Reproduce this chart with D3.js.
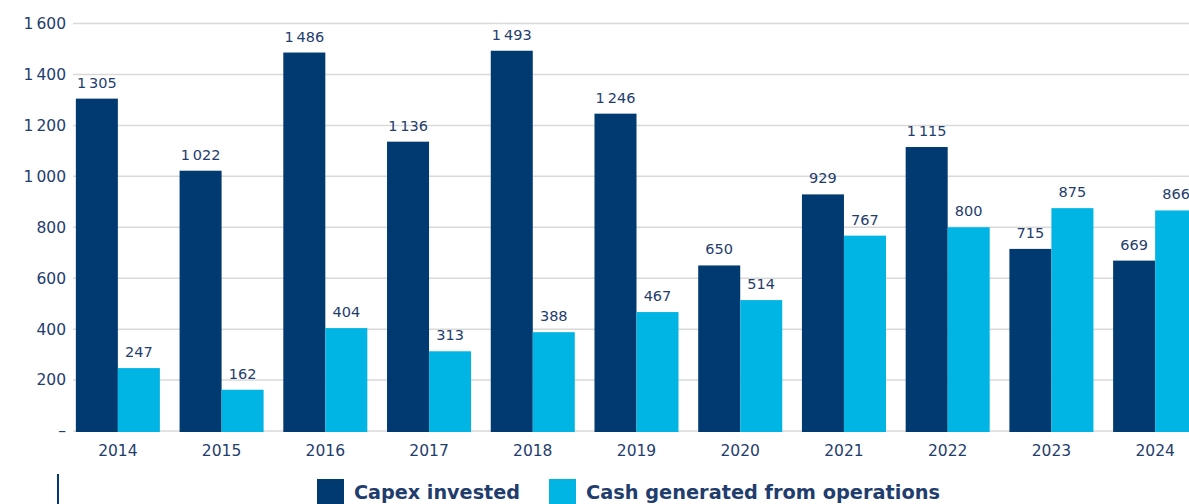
<!DOCTYPE html>
<html>
<head>
<meta charset="utf-8">
<script src="https://cdn.jsdelivr.net/npm/d3@7"></script>
<style>
  body { margin: 0; background: #fff; }
  svg { display: block; font-family: "DejaVu Sans", "Noto Sans", sans-serif; }
</style>
</head>
<body>
<svg id="chart" width="1189" height="504"></svg>
<script>
const years = ["2014", "2015", "2016", "2017", "2018", "2019", "2020", "2021", "2022", "2023", "2024"];
const capex = [1305, 1022, 1486, 1136, 1493, 1246, 650, 929, 1115, 715, 669];
const cash = [247, 162, 404, 313, 388, 467, 514, 767, 800, 875, 866];
const yTicks = [0, 200, 400, 600, 800, 1000, 1200, 1400, 1600];
const seriesNames = ["Capex invested", "Cash generated from operations"];
const colors = ["#003a70", "#00b4e4"];
const textColor = "#1f3d6d";

let svg = d3.select("#chart");
let width = +svg.attr("width");

let fmt = d3.formatLocale({ decimal: ".", thousands: "\u2009", grouping: [3], currency: ["", ""] }).format(",d");

let x = d3.scaleBand()
    .domain(years)
    .range([66, 1207])
    .paddingInner(0.19)
    .paddingOuter(0.095);

let xs = d3.scaleBand()
    .domain([0, 1])
    .range([0, x.bandwidth()]);

let y = d3.scaleLinear()
    .domain([0, 1600])
    .range([431, 23.5]);

// grid lines
svg.append("g")
    .selectAll("line")
    .data(yTicks)
    .join("line")
    .attr("x1", 73)
    .attr("x2", width)
    .attr("y1", d => y(d))
    .attr("y2", d => y(d))
    .attr("stroke", "#d9d9d9")
    .attr("stroke-width", 1.5);

// y labels
svg.append("g")
    .selectAll("text")
    .data(yTicks)
    .join("text")
    .attr("x", 66)
    .attr("y", d => y(d))
    .attr("dy", "0.35em")
    .attr("text-anchor", "end")
    .attr("fill", textColor)
    .attr("font-size", 15.5)
    .text(d => d === 0 ? "\u2013" : fmt(d));

let rows = years.map((yr, i) => ({ year: yr, vals: [capex[i], cash[i]] }));

let groups = svg.append("g")
    .selectAll("g")
    .data(rows)
    .join("g")
    .attr("transform", d => `translate(${x(d.year)},0)`);

groups.selectAll("rect")
    .data(d => d.vals.map((v, k) => ({ v, k })))
    .join("rect")
    .attr("x", d => xs(d.k))
    .attr("width", xs.bandwidth())
    .attr("y", d => y(d.v))
    .attr("height", d => y(0) - y(d.v) + 1)
    .attr("fill", d => colors[d.k]);

groups.selectAll("text.val")
    .data(d => d.vals.map((v, k) => ({ v, k })))
    .join("text")
    .attr("class", "val")
    .attr("x", d => xs(d.k) + xs.bandwidth() / 2)
    .attr("y", d => y(d.v) - 11)
    .attr("text-anchor", "middle")
    .attr("fill", textColor)
    .attr("font-size", 14.5)
    .text(d => fmt(d.v));

// x labels
svg.append("g")
    .selectAll("text")
    .data(years)
    .join("text")
    .attr("x", d => x(d) + x.bandwidth() / 2)
    .attr("y", 456)
    .attr("text-anchor", "middle")
    .attr("fill", textColor)
    .attr("font-size", 15.5)
    .text(d => d);

// left accent line
svg.append("line")
    .attr("x1", 58).attr("x2", 58)
    .attr("y1", 474).attr("y2", 504)
    .attr("stroke", "#003a70")
    .attr("stroke-width", 2);

// legend
let legendX = [317, 549];
let legendW = [166, 354];
let legend = svg.append("g")
    .selectAll("g")
    .data(seriesNames)
    .join("g")
    .attr("transform", (d, i) => `translate(${legendX[i]},479)`);

legend.append("rect")
    .attr("width", 27)
    .attr("height", 26)
    .attr("fill", (d, i) => colors[i]);

legend.append("text")
    .attr("x", 37)
    .attr("y", 20)
    .attr("fill", textColor)
    .attr("font-size", 19)
    .attr("font-weight", "bold")
    .attr("textLength", (d, i) => legendW[i])
    .attr("lengthAdjust", "spacingAndGlyphs")
    .text(d => d);
</script>
</body>
</html>
